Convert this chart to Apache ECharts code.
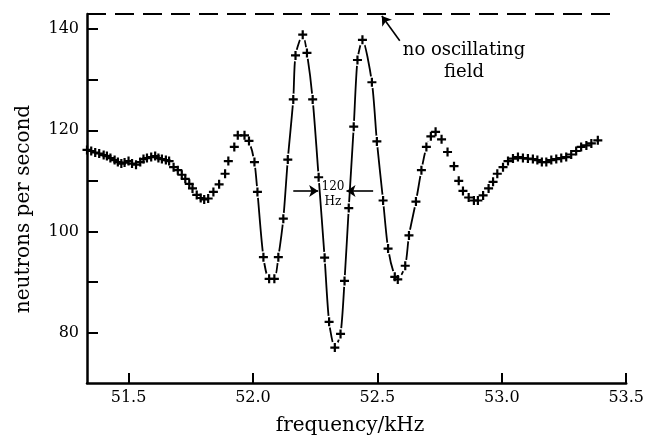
<!DOCTYPE html>
<html>
<head>
<meta charset="utf-8">
<script src="https://cdn.jsdelivr.net/npm/echarts@6/dist/echarts.min.js"></script>
<style>html,body{margin:0;padding:0;background:#fff}#c{width:647px;height:439px}</style>
</head>
<body>
<div id="c"></div>
<script>
// ---- data ----
const freq = [51.333,51.350,51.366,51.382,51.400,51.413,51.427,51.444,51.457,51.471,
  51.484,51.500,51.514,51.530,51.547,51.560,51.574,51.591,51.607,51.620,
  51.634,51.650,51.663,51.681,51.698,51.714,51.728,51.744,51.757,51.774,
  51.790,51.804,51.820,51.841,51.864,51.888,51.901,51.925,51.939,51.966,
  51.984,52.006,52.018,52.042,52.065,52.086,52.102,52.122,52.140,52.162,
  52.171,52.200,52.217,52.240,52.264,52.288,52.306,52.329,52.352,52.368,
  52.385,52.405,52.420,52.440,52.478,52.498,52.523,52.543,52.570,52.582,
  52.612,52.627,52.655,52.677,52.697,52.715,52.734,52.758,52.782,52.808,
  52.827,52.844,52.867,52.888,52.904,52.925,52.947,52.965,52.982,53.005,
  53.025,53.045,53.065,53.085,53.105,53.125,53.143,53.161,53.179,53.199,
  53.219,53.239,53.259,53.279,53.299,53.319,53.340,53.360,53.386];
const counts = [116.1,115.9,115.6,115.4,115.1,114.9,114.5,114.1,113.7,113.4,
  113.6,113.9,113.4,113.2,113.7,114.3,114.5,114.7,114.9,114.5,
  114.3,114.1,113.9,112.7,112.1,111.2,110.4,109.4,108.5,107.2,
  106.6,106.3,106.5,107.8,109.3,111.4,113.9,116.7,119.0,119.0,
  117.9,113.7,107.8,94.9,90.6,90.6,94.9,102.5,114.2,126.1,
  134.8,138.9,135.3,126.1,110.7,94.8,82.1,77.0,79.7,90.2,
  104.6,120.7,133.9,137.9,129.5,117.8,106.1,96.6,91.0,90.5,
  93.2,99.2,105.9,112.1,116.7,118.8,119.7,118.2,115.7,112.9,
  110.0,108.0,106.7,106.1,106.1,107.1,108.5,109.8,111.4,112.7,
  113.9,114.4,114.7,114.5,114.4,114.3,114.1,113.7,113.7,114.1,
  114.3,114.5,114.7,115.2,115.9,116.7,117.0,117.4,118.0];
// points joined by the drawn curve (index range, inclusive)
const joinedFrom = 39, joinedTo = 76;
// "no oscillating field" level
const noFieldLevel = 143;
const noFieldFrom = 51.333, noFieldTo = 53.46;
// 120 Hz width marker (data coordinates)
const widthLevel = 108.0;
const widthLeft = [52.162, 52.262];
const widthRight = [52.483, 52.376];
// arrow to the no-field line
const noFieldArrow = [[52.590, 137.7], [52.518, 142.6]];
// axis ticks & labels
const xTicks = [51.5, 52.0, 52.5, 53.0, 53.5];
const yTicks = [80, 90, 100, 110, 120, 130, 140];
const yLabels = [80, 100, 120, 140];
const xName = 'frequency/kHz';
const yName = 'neutrons per second';
const noFieldText = 'no oscillating\nfield';
const widthText = '120\nHz';

// ---- chart ----
const FONT = 'DejaVu Serif';
const pts = freq.map((f, i) => [f, counts[i]]);
const joined = pts.slice(joinedFrom, joinedTo + 1);
const plus = 'path://M3.4,0H5.6V3.4H9V5.6H5.6V9H3.4V5.6H0V3.4H3.4Z';

const chart = echarts.init(document.getElementById('c'), null, {renderer: 'canvas'});
chart.setOption({
  animation: false,
  backgroundColor: '#fff',
  grid: {left: 87, right: 20.5, top: 14, bottom: 56, containLabel: false},
  xAxis: {
    type: 'value', min: 51.333, max: 53.5,
    axisLine: {onZero: false, lineStyle: {color: '#000', width: 2.5}},
    axisTick: {inside: true, length: 10, customValues: xTicks, lineStyle: {color: '#000', width: 2}},
    axisLabel: {customValues: xTicks, formatter: v => v.toFixed(1), color: '#000',
      fontFamily: FONT, fontSize: 16, margin: 7},
    splitLine: {show: false}
  },
  yAxis: {
    type: 'value', min: 70, max: 143,
    axisLine: {onZero: false, lineStyle: {color: '#000', width: 2.5}},
    axisTick: {inside: true, length: 11, customValues: yTicks, lineStyle: {color: '#000', width: 2}},
    axisLabel: {customValues: yLabels, formatter: v => String(v), color: '#000',
      fontFamily: FONT, fontSize: 16, margin: 8},
    splitLine: {show: false}
  },
  graphic: [
    {type: 'text', x: 350, y: 426, style: {text: xName, fontFamily: FONT, fontSize: 20,
      fill: '#000', align: 'center', verticalAlign: 'middle'}},
    {type: 'text', x: 24, y: 209, rotation: Math.PI / 2, style: {text: yName, fontFamily: FONT,
      fontSize: 20, fill: '#000', align: 'center', verticalAlign: 'middle'}},
    {type: 'text', x: 464, y: 61, style: {text: noFieldText, fontFamily: FONT, fontSize: 18,
      lineHeight: 22, fill: '#000', align: 'center', verticalAlign: 'middle'}},
    {type: 'text', x: 333, y: 194, style: {text: widthText, fontFamily: FONT, fontSize: 12,
      lineHeight: 15, fill: '#000', align: 'center', verticalAlign: 'middle'}}
  ],
  series: [
    {
      type: 'line', z: 2, data: [[noFieldFrom, noFieldLevel], [noFieldTo, noFieldLevel]],
      showSymbol: false, silent: true,
      lineStyle: {color: '#000', width: 2, type: [19, 9]},
      markLine: {
        silent: true, animation: false,
        symbol: ['none', 'arrow'], symbolSize: 9,
        label: {show: false},
        lineStyle: {color: '#000', width: 1.6, type: 'solid'},
        data: [
          [{coord: noFieldArrow[0]}, {coord: noFieldArrow[1]}],
          [{coord: [widthLeft[0], widthLevel]}, {coord: [widthLeft[1], widthLevel]}],
          [{coord: [widthRight[0], widthLevel]}, {coord: [widthRight[1], widthLevel]}]
        ]
      }
    },
    {
      type: 'line', z: 2, data: joined, showSymbol: false, silent: true, smooth: 0.25,
      lineStyle: {color: '#000', width: 1.8}
    },
    {
      type: 'scatter', z: 5, data: joined, symbol: 'circle', symbolSize: 12, silent: true,
      itemStyle: {color: '#fff', opacity: 1}
    },
    {
      type: 'scatter', z: 6, data: pts, symbol: plus, symbolSize: 9, silent: true,
      itemStyle: {color: '#000', opacity: 1}
    }
  ]
});
</script>
</body>
</html>
